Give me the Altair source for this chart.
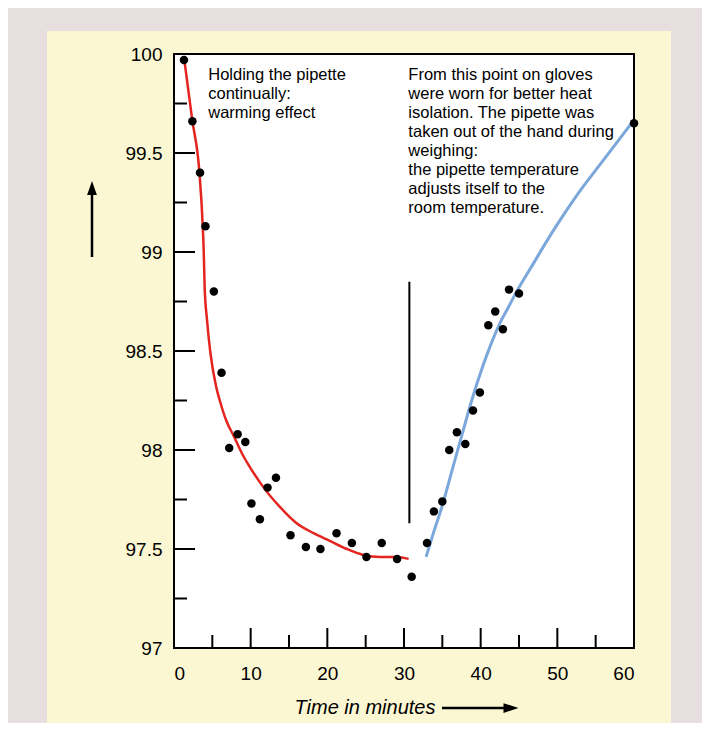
import altair as alt
import pandas as pd

# ---- data ----
time_min = [1.3, 2.4, 3.4, 4.1, 5.2, 6.2, 7.2, 8.3, 9.3, 10.1, 11.2, 12.2, 13.3,
            15.2, 17.2, 19.1, 21.2, 23.2, 25.1, 27.1, 29.1, 31.0, 33.0, 33.9,
            35.0, 35.9, 36.9, 38.0, 39.0, 39.9, 41.0, 41.9, 42.9, 43.7, 45.0, 60.0]
temp = [99.97, 99.66, 99.40, 99.13, 98.80, 98.39, 98.01, 98.08, 98.04, 97.73,
        97.65, 97.81, 97.86, 97.57, 97.51, 97.50, 97.58, 97.53, 97.46, 97.53,
        97.45, 97.36, 97.53, 97.69, 97.74, 98.00, 98.09, 98.03, 98.20, 98.29,
        98.63, 98.70, 98.61, 98.81, 98.79, 99.65]

red_x = [1.28, 2.37, 3.32, 3.75, 3.88, 4.0, 4.3, 4.75, 5.5, 6.05, 6.8, 7.8, 8.9,
         9.96, 11.7, 13.87, 16.0, 18.2, 20.4, 22.55, 24.7, 26.9, 29.1, 30.6]
red_y = [99.99, 99.67, 99.40, 99.13, 99.0, 98.82, 98.66, 98.49, 98.32, 98.24,
         98.15, 98.07, 97.98, 97.91, 97.81, 97.71, 97.63, 97.58, 97.54, 97.50,
         97.47, 97.46, 97.46, 97.45]

blue_x = [32.88, 33.83, 34.92, 36.43, 37.73, 38.83, 40.34, 41.5, 42.5, 43.6, 44.69,
          46.85, 49.02, 51.2, 53.36, 55.53, 57.7, 59.66]
blue_y = [97.46, 97.58, 97.71, 97.92, 98.10, 98.25, 98.43, 98.55, 98.64, 98.72,
          98.80, 98.94, 99.08, 99.21, 99.33, 99.44, 99.55, 99.65]

marker_x = [30.7]
marker_y0 = [97.63]
marker_y1 = [98.85]

y_major = [97, 97.5, 98, 98.5, 99, 99.5, 100]
y_minor = [97.25, 97.75, 98.25, 98.75, 99.25, 99.75]
x_major = [0, 10, 20, 30, 40, 50, 60]
x_minor = [5, 15, 25, 35, 45, 55]

note_left = ["Holding the pipette", "continually:", "warming effect"]
note_right = ["From this point on gloves", "were worn for better heat",
              "isolation. The pipette was", "taken out of the hand during",
              "weighing:", "the pipette temperature", "adjusts itself to the",
              "room temperature."]
note_x = [4.47, 30.57]
note_y = [99.87, 99.87]
x_title = "Time in minutes"

# ---- chart ----
W, H = 460, 594
FONT = "Liberation Sans"
RED = "#e3241f"
BLUE = "#7ba7da"

xs = alt.Scale(domain=[0, 60], nice=False, zero=False)
ys = alt.Scale(domain=[97, 100], nice=False, zero=False)
xaxis = alt.Axis(values=x_major, domain=False, ticks=False, tickSize=0, grid=False,
                 labelFontSize=19, labelPadding=16, labelFont=FONT, labelColor="black",
                 title=None, zindex=1)
yaxis = alt.Axis(values=y_major, format="~g", domain=False, ticks=False, tickSize=0,
                 grid=False, labelFontSize=19, labelPadding=12, labelFont=FONT,
                 labelColor="black", title=None, zindex=1)


def X(f):
    return alt.X(f + ":Q", scale=xs, axis=xaxis)


def Y(f):
    return alt.Y(f + ":Q", scale=ys, axis=yaxis)


one = pd.DataFrame({"k": [0]})
box = pd.DataFrame({"x0": [0], "x1": [60], "y0": [97], "y1": [100]})

panel = alt.Chart(one).mark_rect(color="#fcf7d3").encode(
    x=alt.value(-127), x2=alt.value(497), y=alt.value(-23), y2=alt.value(700))

white = alt.Chart(box).mark_rect(color="white").encode(
    x=X("x0"), x2="x1", y=Y("y0"), y2="y1")

ytick_major = alt.Chart(pd.DataFrame({"y": y_major})).mark_rule(
    color="black", strokeWidth=2).encode(y=Y("y"), x=alt.value(0), x2=alt.value(21))
ytick_minor = alt.Chart(pd.DataFrame({"y": y_minor})).mark_rule(
    color="black", strokeWidth=2).encode(y=Y("y"), x=alt.value(0), x2=alt.value(13))
xtick_major = alt.Chart(pd.DataFrame({"x": x_major})).mark_rule(
    color="black", strokeWidth=2).encode(x=X("x"), y=alt.value(H), y2=alt.value(H - 20))
xtick_minor = alt.Chart(pd.DataFrame({"x": x_minor})).mark_rule(
    color="black", strokeWidth=2).encode(x=X("x"), y=alt.value(H), y2=alt.value(H - 13))

frame = alt.Chart(box).mark_rect(fillOpacity=0, stroke="black", strokeWidth=2).encode(
    x=X("x0"), x2="x1", y=Y("y0"), y2="y1")

marker = alt.Chart(pd.DataFrame({"x": marker_x, "y0": marker_y0, "y1": marker_y1})).mark_rule(
    color="black", strokeWidth=2).encode(x=X("x"), y=Y("y0"), y2="y1")

red = alt.Chart(pd.DataFrame({"x": red_x, "y": red_y})).mark_line(
    color=RED, strokeWidth=2.5, interpolate="monotone").encode(x=X("x"), y=Y("y"))
blue = alt.Chart(pd.DataFrame({"x": blue_x, "y": blue_y})).mark_line(
    color=BLUE, strokeWidth=3, interpolate="monotone").encode(x=X("x"), y=Y("y"))

pts = alt.Chart(pd.DataFrame({"x": time_min, "y": temp})).mark_circle(
    size=72, color="black", opacity=1).encode(x=X("x"), y=Y("y"))

txt_l = alt.Chart(pd.DataFrame({"x": note_x[:1], "y": note_y[:1]})).mark_text(
    text=note_left, align="left", baseline="alphabetic", fontSize=16.5, lineHeight=19,
    font=FONT, color="black").encode(x=X("x"), y=Y("y"))
txt_r = alt.Chart(pd.DataFrame({"x": note_x[1:], "y": note_y[1:]})).mark_text(
    text=note_right, align="left", baseline="alphabetic", fontSize=16.5, lineHeight=19,
    font=FONT, color="black").encode(x=X("x"), y=Y("y"))

xtitle = alt.Chart(one).mark_text(
    text=x_title, fontStyle="italic", fontSize=20, font=FONT, color="black",
    align="center", baseline="middle").encode(x=alt.value(191), y=alt.value(654))

yshaft = alt.Chart(one).mark_rule(color="black", strokeWidth=2.5).encode(
    x=alt.value(-82), y=alt.value(203), y2=alt.value(140))
yhead = alt.Chart(one).mark_point(
    shape="M0,-1L0.7,1L-0.7,1Z", filled=True, size=196, color="black", opacity=1,
    strokeWidth=0).encode(x=alt.value(-82), y=alt.value(134))
xshaft = alt.Chart(one).mark_rule(color="black", strokeWidth=2.5).encode(
    x=alt.value(268), x2=alt.value(332), y=alt.value(654))
xhead = alt.Chart(one).mark_point(
    shape="M1,0L-1,-0.65L-1,0.65Z", filled=True, size=225, color="black", opacity=1,
    strokeWidth=0).encode(x=alt.value(337), y=alt.value(654))

chart = alt.layer(
    panel, white, ytick_major, ytick_minor, xtick_major, xtick_minor, frame,
    marker, red, blue, pts, txt_l, txt_r, xtitle, yshaft, yhead, xshaft, xhead
).properties(
    width=W, height=H,
    autosize=alt.AutoSizeParams(type="none"),
    padding={"left": 166, "top": 46, "right": 68, "bottom": 75},
).configure(background="#e7dfdf").configure_view(stroke=None)

chart.save("out.html", embed_options={"renderer": "svg", "actions": False})
